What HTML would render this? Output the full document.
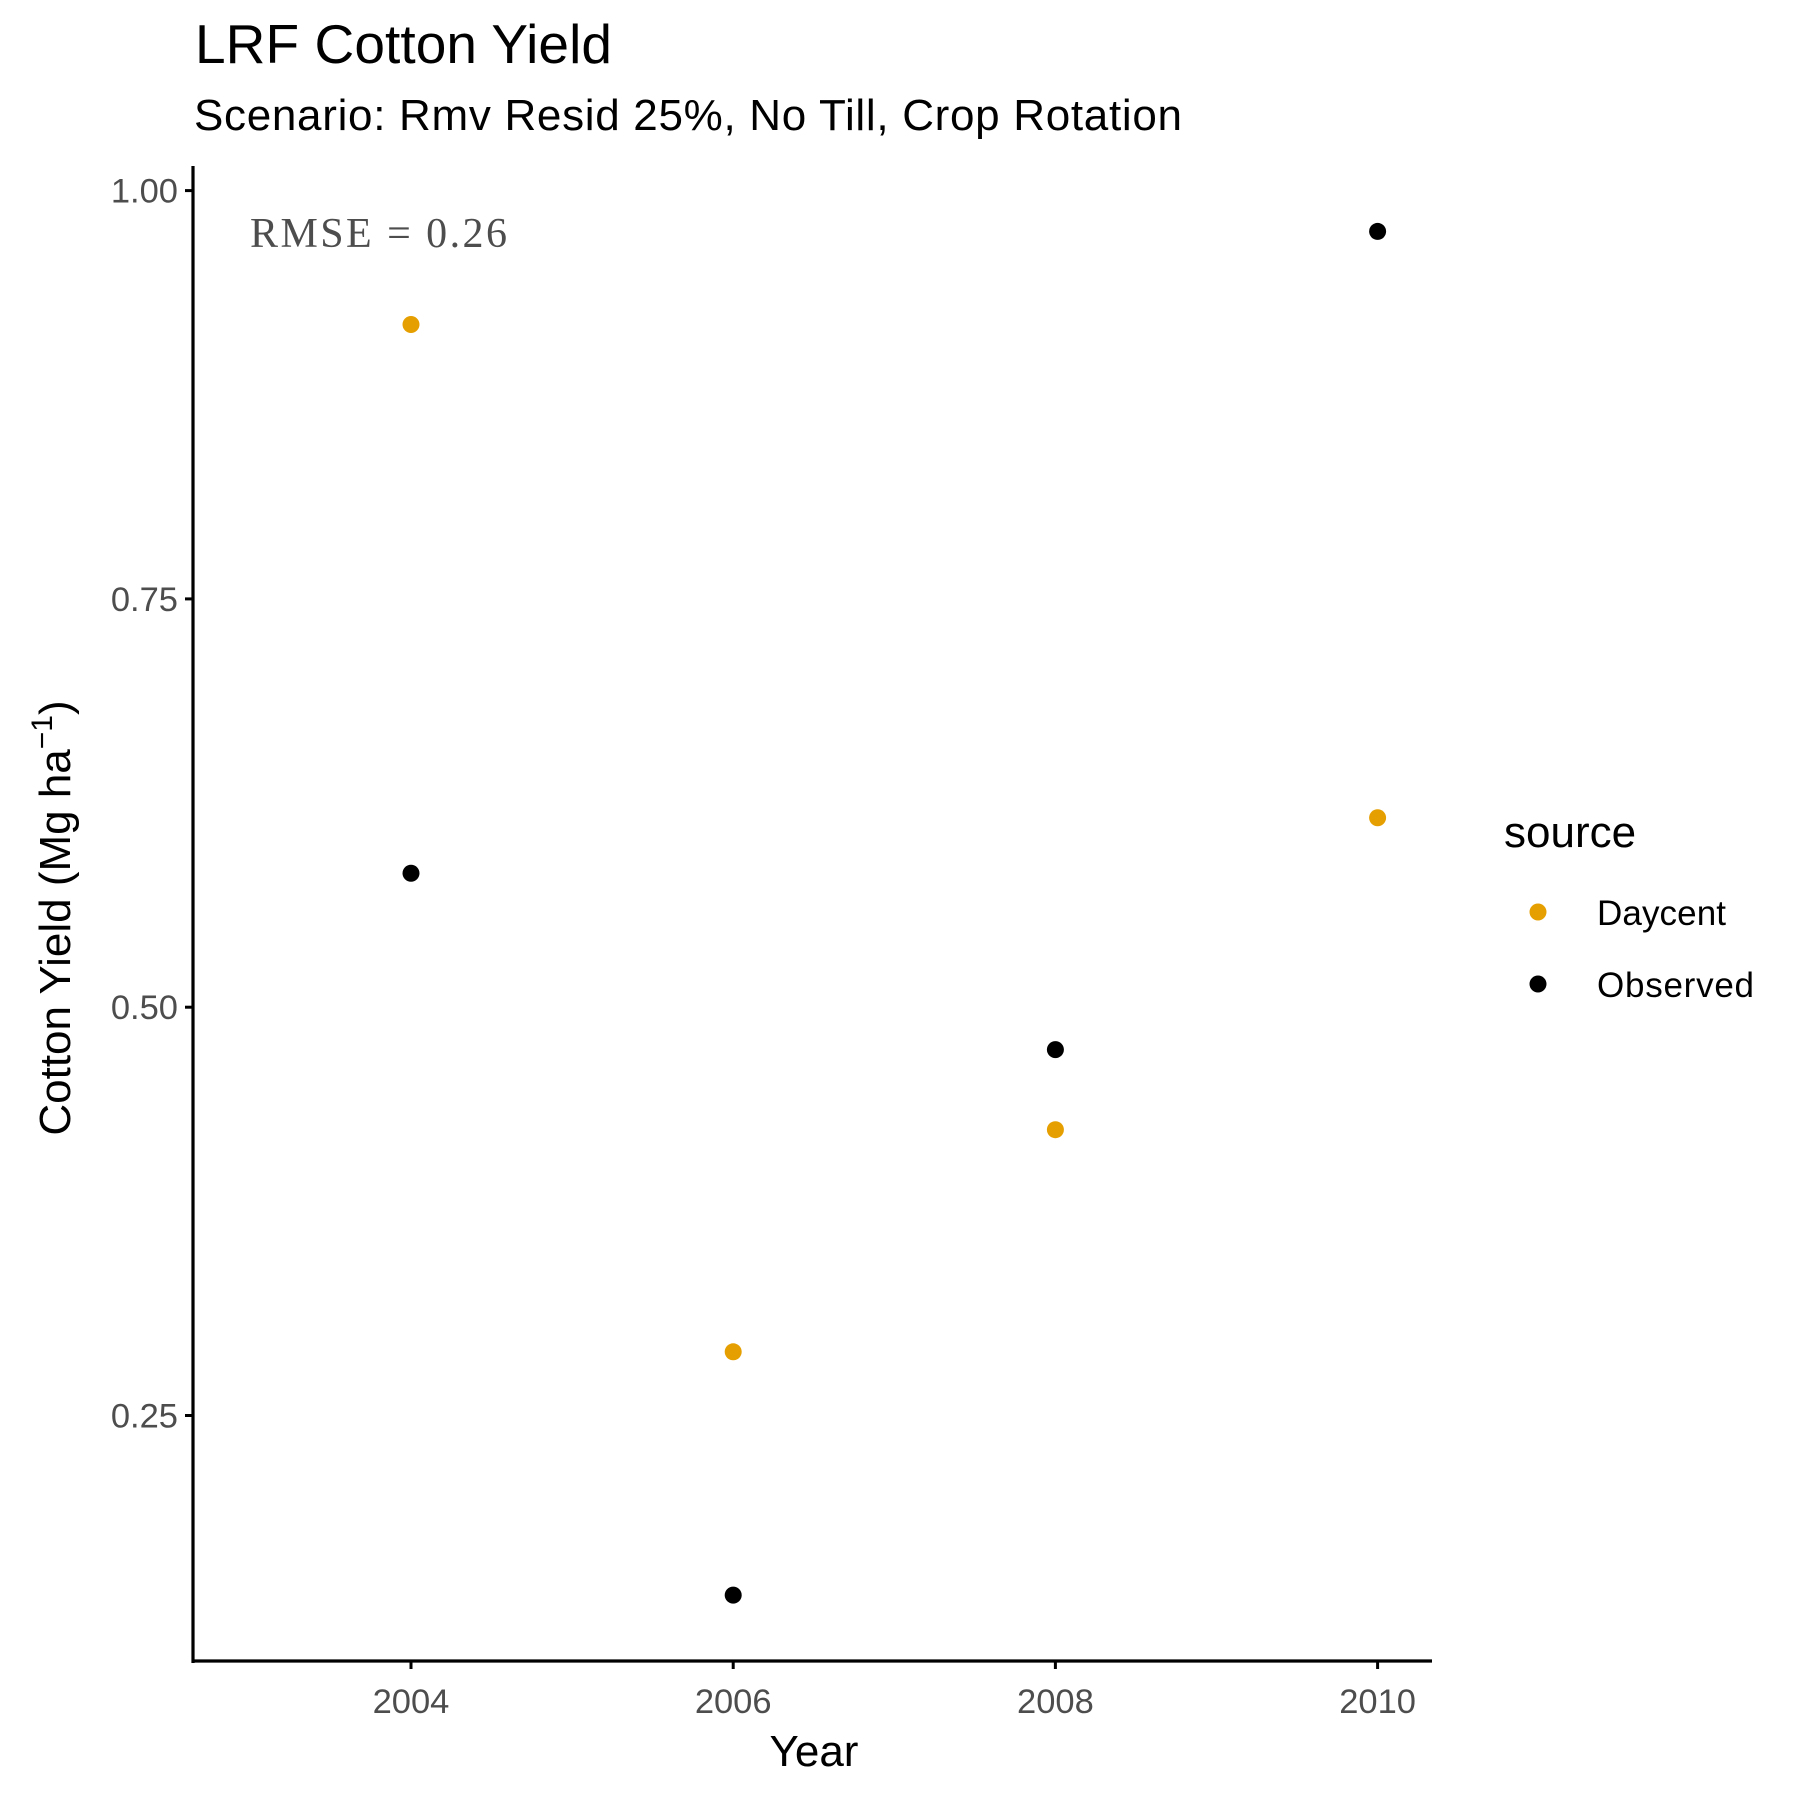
<!DOCTYPE html>
<html><head><meta charset="utf-8"><style>html,body{margin:0;padding:0;background:#fff}svg{display:block}text{font-family:"Liberation Sans",sans-serif}</style></head>
<body>
<svg id="chart" width="1800" height="1800" viewBox="0 0 1800 1800">
<text x="195" y="63" font-size="55" fill="#000" textLength="417">LRF Cotton Yield</text>
<text x="194" y="130" font-size="44" fill="#000" textLength="988">Scenario: Rmv Resid 25%, No Till, Crop Rotation</text>
<g id="axes"></g>
<g id="points"></g>
<text x="250" y="247" font-size="42" fill="#4d4d4d" style="font-family:'Liberation Serif',serif" textLength="257">RMSE = 0.26</text>
<text x="814" y="1766" font-size="44" text-anchor="middle" fill="#000">Year</text>
<text transform="translate(70,918) rotate(-90)" font-size="44" text-anchor="middle" fill="#000">Cotton Yield (Mg ha<tspan dy="-18" font-size="30">−1</tspan><tspan dy="18">)</tspan></text>
<g>
<text x="1504" y="847" font-size="44" fill="#000">source</text>
<circle cx="1538" cy="912" r="8.5" fill="#E69F00"/>
<text x="1597" y="925" font-size="35" fill="#000" textLength="129">Daycent</text>
<circle cx="1538" cy="984" r="8.5" fill="#000"/>
<text x="1597" y="997" font-size="35" fill="#000" textLength="157">Observed</text>
</g>
</svg>
<script>
const years = [2004, 2006, 2008, 2010];
const daycent = [0.918, 0.289, 0.425, 0.616];
const observed = [0.582, 0.140, 0.474, 0.975];
const yTicks = [0.25, 0.50, 0.75, 1.00];
const yTickLabels = ["0.25", "0.50", "0.75", "1.00"];
const xTicks = [2004, 2006, 2008, 2010];

const NS = "http://www.w3.org/2000/svg";
function xs(v){ return 411 + (v - 2004) * (1377.6 - 411) / 6; }
function ys(v){ return 190.6 + (1 - v) * (1415.5 - 190.6) / 0.75; }
function mk(tag, attrs, parent){ const e = document.createElementNS(NS, tag); for (const k in attrs) e.setAttribute(k, attrs[k]); parent.appendChild(e); return e; }

const axes = document.getElementById('axes');
let el = mk('line', {x1:193, y1:166, x2:193, y2:1663, stroke:'#000', 'stroke-width':3.2}, axes);


el = mk('line', {x1:191.5, y1:1661, x2:1432, y2:1661, stroke:'#000', 'stroke-width':3.2}, axes);


yTicks.forEach((v, i) => {
  const t = mk('line', {x1:185, y1:ys(v), x2:193, y2:ys(v), stroke:'#000', 'stroke-width':3}, axes);
  
  
  const l = mk('text', {x:178, y:ys(v) + 12, 'font-size':34.5, 'text-anchor':'end', fill:'#4d4d4d'}, axes);
  l.textContent = yTickLabels[i];
  
  
});
xTicks.forEach(v => {
  const t = mk('line', {x1:xs(v), y1:1661, x2:xs(v), y2:1669, stroke:'#000', 'stroke-width':3}, axes);
  
  
  const l = mk('text', {x:xs(v), y:1713, 'font-size':34.5, 'text-anchor':'middle', fill:'#4d4d4d'}, axes);
  l.textContent = String(v);
  
  
});
const pts = document.getElementById('points');
years.forEach((yr, i) => {
  const c = mk('circle', {cx:xs(yr), cy:ys(daycent[i]), r:8.5, fill:'#E69F00'}, pts);
  
  
});
years.forEach((yr, i) => {
  const c = mk('circle', {cx:xs(yr), cy:ys(observed[i]), r:8.5, fill:'#000'}, pts);
  
  
});
</script>
</body></html>
